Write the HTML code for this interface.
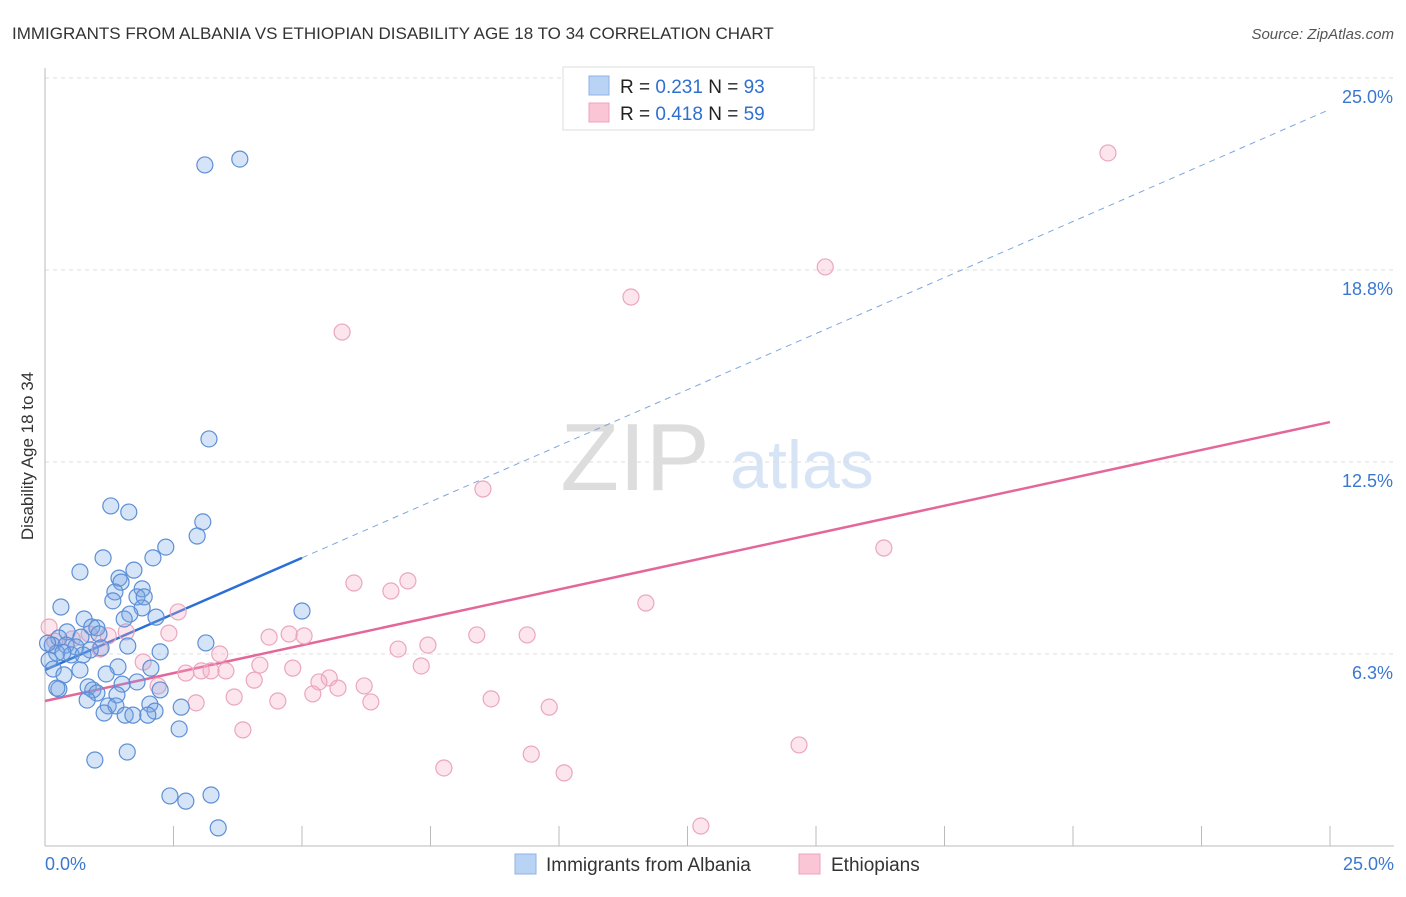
<!DOCTYPE html>
<html><head><meta charset="utf-8"><style>
body{margin:0;background:#fff;font-family:"Liberation Sans",sans-serif}
svg text{font-family:"Liberation Sans",sans-serif}
</style></head><body>
<svg id="chart" width="1406" height="892" xmlns="http://www.w3.org/2000/svg">
<text x="12" y="39" font-size="17" fill="#333">IMMIGRANTS FROM ALBANIA VS ETHIOPIAN DISABILITY AGE 18 TO 34 CORRELATION CHART</text>
<text x="1394" y="39" font-size="15" fill="#555" text-anchor="end" font-style="italic">Source: ZipAtlas.com</text>
<g><text x="635" y="490" font-size="96" fill="#ddd" font-family="Liberation Serif" text-anchor="middle">ZIP</text><text x="802" y="488" font-size="68" fill="#d6e4f5" text-anchor="middle">atlas</text></g>
<g id="grid"></g>
<g id="axes"></g>
<g id="trends"></g>
<g id="points"></g>
<text transform="translate(33,456) rotate(-90)" font-size="17" fill="#333" text-anchor="middle">Disability Age 18 to 34</text>
<g>
<rect x="563" y="67" width="251" height="63" fill="#fff" stroke="#ddd"/>
<rect x="589" y="76" width="20" height="19" fill="#b9d3f5" stroke="#8fb3e6"/>
<rect x="589" y="103" width="20" height="19" fill="#fac6d6" stroke="#efa3bb"/>
<text x="620" y="93" font-size="19" fill="#222">R = <tspan fill="#2f6fd0">0.231</tspan>   N = <tspan fill="#2f6fd0">93</tspan></text>
<text x="620" y="120" font-size="19" fill="#222">R = <tspan fill="#2f6fd0">0.418</tspan>   N = <tspan fill="#2f6fd0">59</tspan></text>
</g>
<g>
<rect x="515" y="854" width="21" height="20" fill="#b9d3f5" stroke="#8fb3e6"/>
<text x="546" y="871" font-size="19" fill="#333">Immigrants from Albania</text>
<rect x="799" y="854" width="21" height="20" fill="#fac6d6" stroke="#efa3bb"/>
<text x="831" y="871" font-size="19" fill="#333">Ethiopians</text>
</g>
</svg>
<script>
const yTicks=[25,18.75,12.5,6.25];
const yTickLabels=["25.0%","18.8%","12.5%","6.3%"];
const xTicks=[0,2.5,5,7.5,10,12.5,15,17.5,20,22.5,25];
const blueX=[3.11,3.79,3.19,1.28,1.63,3.07,2.96,2.35,1.13,2.10,0.68,1.73,1.44,1.48,1.89,1.36,1.79,1.93,1.32,0.31,1.89,5.0,1.65,2.16,0.76,1.54,0.91,1.01,0.43,1.05,0.70,0.27,3.13,0.14,0.41,0.60,1.09,1.61,0.88,2.24,0.23,0.51,0.74,0.08,1.42,2.06,0.16,0.68,0.37,1.19,1.79,1.50,0.84,0.27,0.93,2.24,1.01,1.40,0.82,2.04,2.65,1.23,1.38,2.14,1.15,1.56,1.71,2.00,2.61,1.60,0.97,2.43,2.74,3.23,3.37,0.23,0.05,0.35];
const blueY=[22.17,22.36,13.25,11.07,10.87,10.55,10.09,9.73,9.38,9.38,8.92,8.98,8.72,8.59,8.37,8.27,8.11,8.11,7.98,7.78,7.75,7.65,7.55,7.45,7.39,7.39,7.13,7.10,6.97,6.90,6.80,6.77,6.61,6.54,6.54,6.48,6.45,6.51,6.38,6.32,6.28,6.22,6.22,6.05,5.83,5.79,5.76,5.73,5.57,5.60,5.34,5.27,5.18,5.11,5.08,5.08,4.98,4.92,4.75,4.62,4.52,4.56,4.56,4.39,4.33,4.26,4.26,4.26,3.81,3.06,2.80,1.63,1.46,1.66,0.59,5.14,6.6,6.3];
const pinkX=[20.68,15.18,11.40,5.78,8.52,16.32,6.01,7.06,6.73,11.69,2.59,1.58,2.41,4.36,4.75,5.04,8.40,9.38,7.45,6.87,3.40,1.07,4.18,4.82,7.32,1.91,2.74,3.04,3.23,3.52,4.07,5.53,5.33,5.70,6.21,2.20,3.68,4.53,2.94,5.21,6.34,8.68,9.81,3.85,14.67,9.46,7.76,10.10,12.76,0.08,0.19,0.53,0.86,1.23];
const pinkY=[22.56,18.85,17.87,16.73,11.62,9.70,8.56,8.63,8.30,7.91,7.62,6.97,6.93,6.80,6.90,6.84,6.87,6.87,6.54,6.41,6.25,6.41,5.89,5.79,5.86,5.99,5.63,5.70,5.70,5.70,5.40,5.47,5.34,5.14,5.21,5.21,4.85,4.72,4.66,4.95,4.69,4.79,4.52,3.78,3.29,2.99,2.54,2.38,0.65,7.13,6.67,6.74,6.90,6.84];
const blueTrend=[5.73,23.98];
const pinkTrend=[4.72,13.80];
const X=v=>45+v*51.4, Y=v=>846-v*30.72;
const NS='http://www.w3.org/2000/svg';
function mk(p,t,a){const e=document.createElementNS(NS,t);for(const k in a)e.setAttribute(k,a[k]);p.appendChild(e);return e;}
const grid=document.getElementById('grid'),axes=document.getElementById('axes');
yTicks.forEach((v,i)=>{
 const l=mk(grid,'line',{x1:45,x2:1394,y1:Y(v),y2:Y(v),stroke:'#ddd','stroke-dasharray':'4,4'});
 
 
 const t=mk(axes,'text',{x:1393,y:Y(v)+25,'font-size':18,fill:'#3a78d0','text-anchor':'end'});
 t.textContent=yTickLabels[i];
 
 
});
const ax=mk(axes,'line',{x1:45,x2:1394,y1:846,y2:846,stroke:'#bbb'});


const ay=mk(axes,'line',{x1:45,x2:45,y1:68,y2:846,stroke:'#bbb'});


xTicks.forEach(v=>{const t=mk(axes,'line',{x1:X(v),x2:X(v),y1:826,y2:846,stroke:'#bbb'});
 
 });
[[0,'start','0.0%'],[25,'end','25.0%']].forEach(d=>{const t=mk(axes,'text',{x:d[0]==0?45:1394,y:870,'font-size':18,fill:'#3a78d0','text-anchor':d[1]});t.textContent=d[2];
 
 });
const pts=document.getElementById('points');
pinkX.forEach((x,i)=>{const c=mk(pts,'circle',{cx:X(x),cy:Y(pinkY[i]),r:8,fill:'rgba(244,170,196,0.3)',stroke:'#eba6bd','stroke-width':1.2});
 
 });
blueX.forEach((x,i)=>{const c=mk(pts,'circle',{cx:X(x),cy:Y(blueY[i]),r:8,fill:'rgba(120,165,230,0.3)',stroke:'#5d8fd6','stroke-width':1.2});
 
 });
const tr=document.getElementById('trends');
const bs=blueTrend[0]+(blueTrend[1]-blueTrend[0])*5/25;
const b1=mk(tr,'line',{x1:X(0),y1:Y(blueTrend[0]),x2:X(5),y2:Y(bs),stroke:'#2a6fd6','stroke-width':2.5});


const b2=mk(tr,'line',{x1:X(5),y1:Y(bs),x2:X(25),y2:Y(blueTrend[1]),stroke:'#7ea6e0','stroke-width':1,'stroke-dasharray':'6,5'});


const p1=mk(tr,'line',{x1:X(0),y1:Y(pinkTrend[0]),x2:X(25),y2:Y(pinkTrend[1]),stroke:'#e4679a','stroke-width':2.5});


</script>
</body></html>
